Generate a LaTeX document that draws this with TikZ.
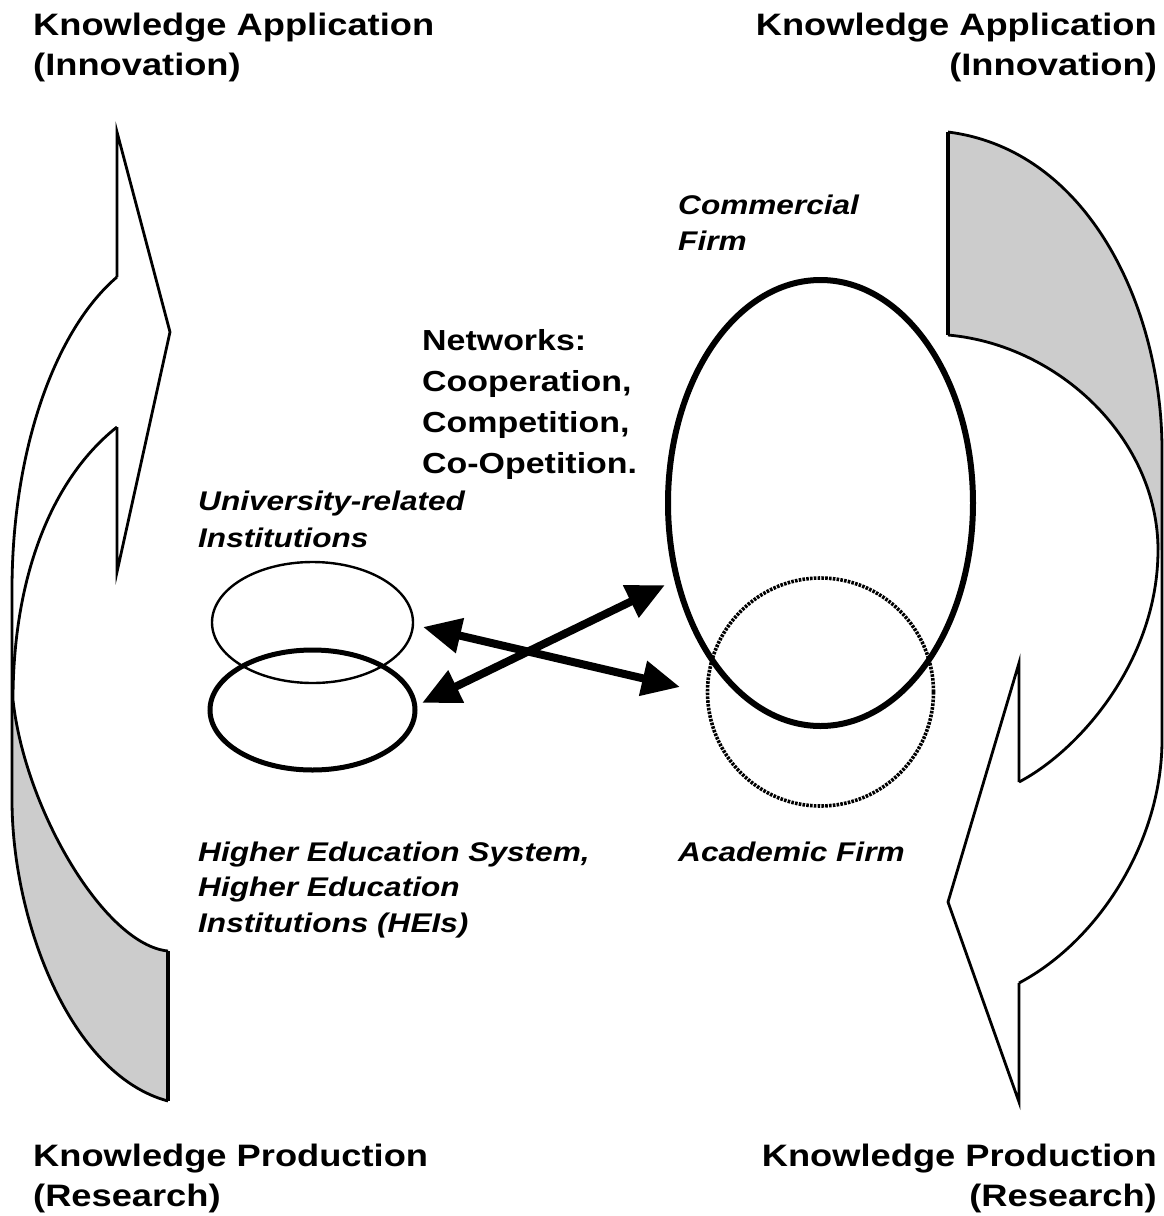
\documentclass[tikz,border=0pt]{standalone}
\usepackage{fontspec}
\setmainfont{Liberation Sans}
\newfontfamily\labfont[FakeStretch=1.17]{Liberation Sans}
\usetikzlibrary{shapes.geometric,arrows.meta}
\begin{document}
\begin{tikzpicture}[x=1pt,y=-1pt,
  ribbon/.style={draw=black,line width=2.8pt,line join=miter},
  greyfill/.style={fill=black!20},
  titletext/.style={font=\labfont\bfseries\fontsize{31}{37}\selectfont,inner sep=0pt},
  nettext/.style={font=\labfont\bfseries\fontsize{29}{35}\selectfont,inner sep=0pt},
  labeltext/.style={font=\labfont\bfseries\itshape\fontsize{27}{32}\selectfont,inner sep=0pt},
  ring/.style={draw=black,ellipse,inner sep=0pt,outer sep=0pt},
  dottedring/.style={ring,line width=3.6pt,dash pattern=on 2.6pt off 1.2pt},
  netarrow/.style={line width=8pt,{Triangle[length=38pt,width=34pt]}-{Triangle[length=38pt,width=34pt]}}
]
\useasboundingbox (0,0) rectangle (1164,1216);

% ---------- left ribbon arrow ----------
\fill[greyfill] (13,700) .. controls (25,810) and (105,945) .. (168,951) -- (168,1101)
  .. controls (70,1075) and (12,920) .. (12,800) -- cycle;
\draw[ribbon] (117,277) .. controls (55,330) and (12,450) .. (12,590) -- (12,800)
  .. controls (12,920) and (70,1075) .. (168,1101);
\draw[ribbon] (117,427) .. controls (50,480) and (13,580) .. (13,700)
  .. controls (25,810) and (105,945) .. (168,951);
\draw[ribbon,line width=3.4pt] (168,951) -- (168,1101);
\draw[ribbon] (117,277) -- (117,132) -- (170,332) -- (117,572) -- (117,427);

% ---------- right ribbon arrow ----------
\fill[greyfill] (948,132) -- (948,335) .. controls (1060,345) and (1158,440) .. (1158,550)
  -- (1162,550) -- (1162,450) .. controls (1162,310) and (1090,150) .. (948,132) -- cycle;
\draw[ribbon] (1019,983) .. controls (1100,940) and (1162,840) .. (1162,740) -- (1162,450)
  .. controls (1162,310) and (1090,150) .. (948,132);
\draw[ribbon,line width=3.4pt] (948,132) -- (948,335);
\draw[ribbon] (948,335) .. controls (1060,345) and (1158,440) .. (1158,550)
  .. controls (1158,660) and (1080,750) .. (1019,782);
\draw[ribbon] (1019,782) -- (1019,663) -- (948,902) -- (1019,1102) -- (1019,983);

% ---------- ellipses ----------
\node[ring,line width=2.4pt,minimum width=201pt,minimum height=121pt] (ur) at (312.5,622.5) {};
\node[ring,line width=5pt,minimum width=205pt,minimum height=120pt] (hei) at (312.5,710) {};
\node[ring,line width=6pt,minimum width=305pt,minimum height=446pt] (cf) at (820.5,503) {};
\node[dottedring,minimum width=226pt,minimum height=228pt] (af) at (820.5,692) {};

% ---------- crossing double arrows ----------
\coordinate (l1) at (423,627);
\coordinate (r1) at (680,687);
\coordinate (l2) at (422,703);
\coordinate (r2) at (665,585);
\draw[netarrow] (l1) -- (r1);
\draw[netarrow] (l2) -- (r2);

% ---------- texts ----------
\node[titletext,anchor=base west] (tl1) at (33,35) {Knowledge Application};
\node[titletext,anchor=base west] (tl2) at (33,75) {(Innovation)};
\node[titletext,anchor=base east] (tr1) at (1157,35) {Knowledge Application};
\node[titletext,anchor=base east] (tr2) at (1157,75) {(Innovation)};
\node[titletext,anchor=base west] (bl1) at (33,1166) {Knowledge Production};
\node[titletext,anchor=base west] (bl2) at (33,1206) {(Research)};
\node[titletext,anchor=base east] (br1) at (1157,1166) {Knowledge Production};
\node[titletext,anchor=base east] (br2) at (1157,1206) {(Research)};

\node[nettext,anchor=base west] (nw1) at (422,350) {Networks:};
\node[nettext,anchor=base west] (nw2) at (422,391) {Cooperation,};
\node[nettext,anchor=base west] (nw3) at (422,432) {Competition,};
\node[nettext,anchor=base west] (nw4) at (422,473) {Co-Opetition.};

\node[labeltext,anchor=base west] (cf1) at (678,214) {Commercial};
\node[labeltext,anchor=base west] (cf2) at (678,250) {Firm};
\node[labeltext,anchor=base west] (ur1) at (198,510) {University-related};
\node[labeltext,anchor=base west] (ur2) at (198,547) {Institutions};
\node[labeltext,anchor=base west] (he1) at (198,861) {Higher Education System,};
\node[labeltext,anchor=base west] (he2) at (198,896) {Higher Education};
\node[labeltext,anchor=base west] (he3) at (198,932) {Institutions (HEIs)};
\node[labeltext,anchor=base west] (af1) at (678,861) {Academic Firm};
\end{tikzpicture}
\end{document}
